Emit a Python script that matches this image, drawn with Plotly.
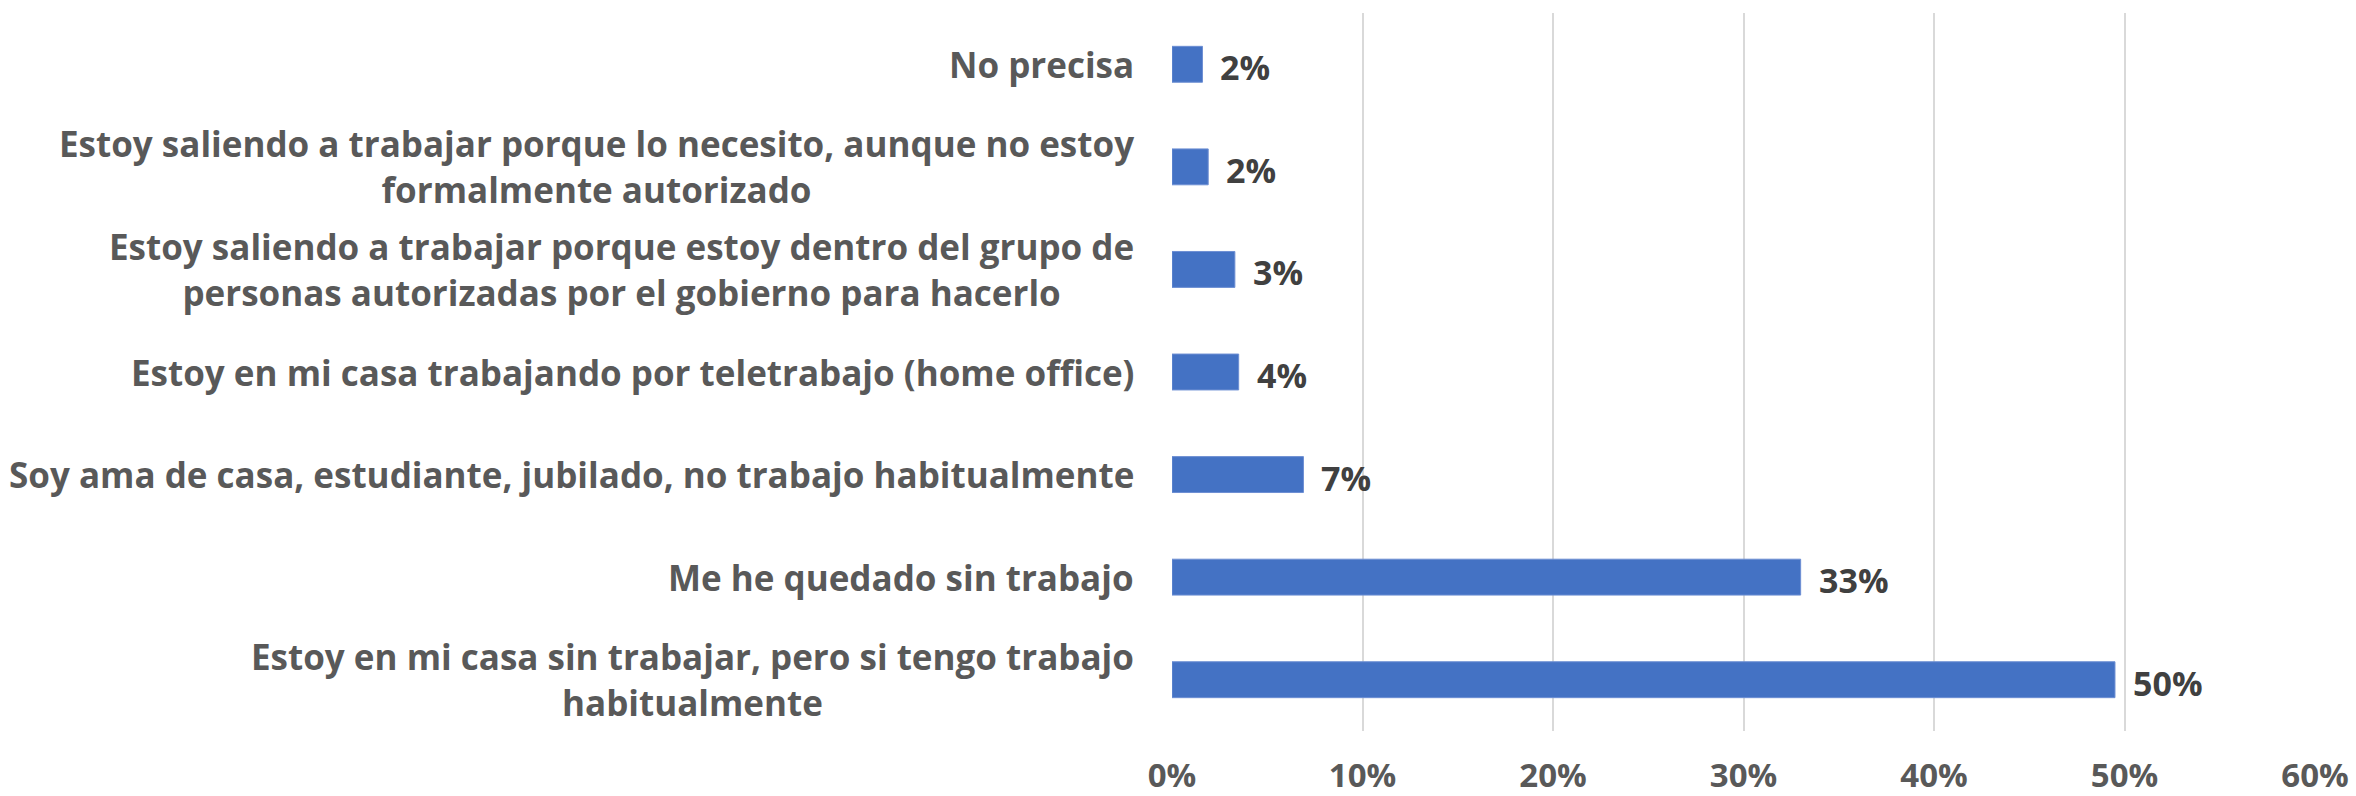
import plotly.graph_objects as go

categories = [
    "No precisa",
    "Estoy saliendo a trabajar porque lo necesito, aunque no estoy<br>formalmente autorizado",
    "Estoy saliendo a trabajar porque estoy dentro del grupo de<br>personas autorizadas por el gobierno para hacerlo",
    "Estoy en mi casa trabajando por teletrabajo (home office)",
    "Soy ama de casa, estudiante, jubilado, no trabajo habitualmente",
    "Me he quedado sin trabajo",
    "Estoy en mi casa sin trabajar, pero si tengo trabajo<br>habitualmente",
]
values = [0.016, 0.019, 0.033, 0.035, 0.069, 0.330, 0.495]
labels = ["2%", "2%", "3%", "4%", "7%", "33%", "50%"]
x_ticks = [0, 0.1, 0.2, 0.3, 0.4, 0.5, 0.6]
x_tick_text = ["0%", "10%", "20%", "30%", "40%", "50%", "60%"]

FONT = "Open Sans"
BAR = "#4472C4"
LABEL_GREY = "#595959"
DATA_GREY = "#404040"

fig = go.Figure()
fig.add_trace(go.Bar(
    x=values, y=categories, orientation="h",
    marker=dict(color=BAR, line=dict(color="#6d8fd3", width=1)),
    width=0.35, hoverinfo="skip",
))

annotations = []
for cat in categories:
    annotations.append(dict(
        x=0, xref="paper", y=cat, yref="y", text=cat, showarrow=False,
        xanchor="right", yanchor="middle", align="center", xshift=-36,
        font=dict(family=FONT, size=35, color=LABEL_GREY, weight="bold"),
    ))
for v, cat, lab in zip(values, categories, labels):
    annotations.append(dict(
        x=v, xref="x", y=cat, yref="y", text=lab, showarrow=False,
        xanchor="left", yanchor="middle", xshift=16, yshift=-3,
        font=dict(family=FONT, size=34, color=DATA_GREY, weight="bold"),
    ))

fig.update_layout(
    width=2356, height=796,
    margin=dict(l=1172, r=41, t=13, b=65),
    paper_bgcolor="white", plot_bgcolor="white",
    showlegend=False,
    annotations=annotations,
    xaxis=dict(
        range=[0, 0.6], tickvals=x_ticks, ticktext=x_tick_text,
        showgrid=True, gridcolor="#d9d9d9", gridwidth=1.5,
        zeroline=False, showline=False, ticks="", automargin=False,
        tickfont=dict(family=FONT, size=33, color=LABEL_GREY, weight="bold"),
        ticklabelstandoff=22,
    ),
    yaxis=dict(
        categoryorder="array", categoryarray=categories,
        autorange="reversed", showticklabels=False, showgrid=False,
        zeroline=False, showline=False, ticks="", automargin=False,
    ),
)

fig.write_html(
    "out.html",
    config={"displayModeBar": False},
    post_script="document.body.style.margin='0';document.body.style.overflow='hidden';",
)
